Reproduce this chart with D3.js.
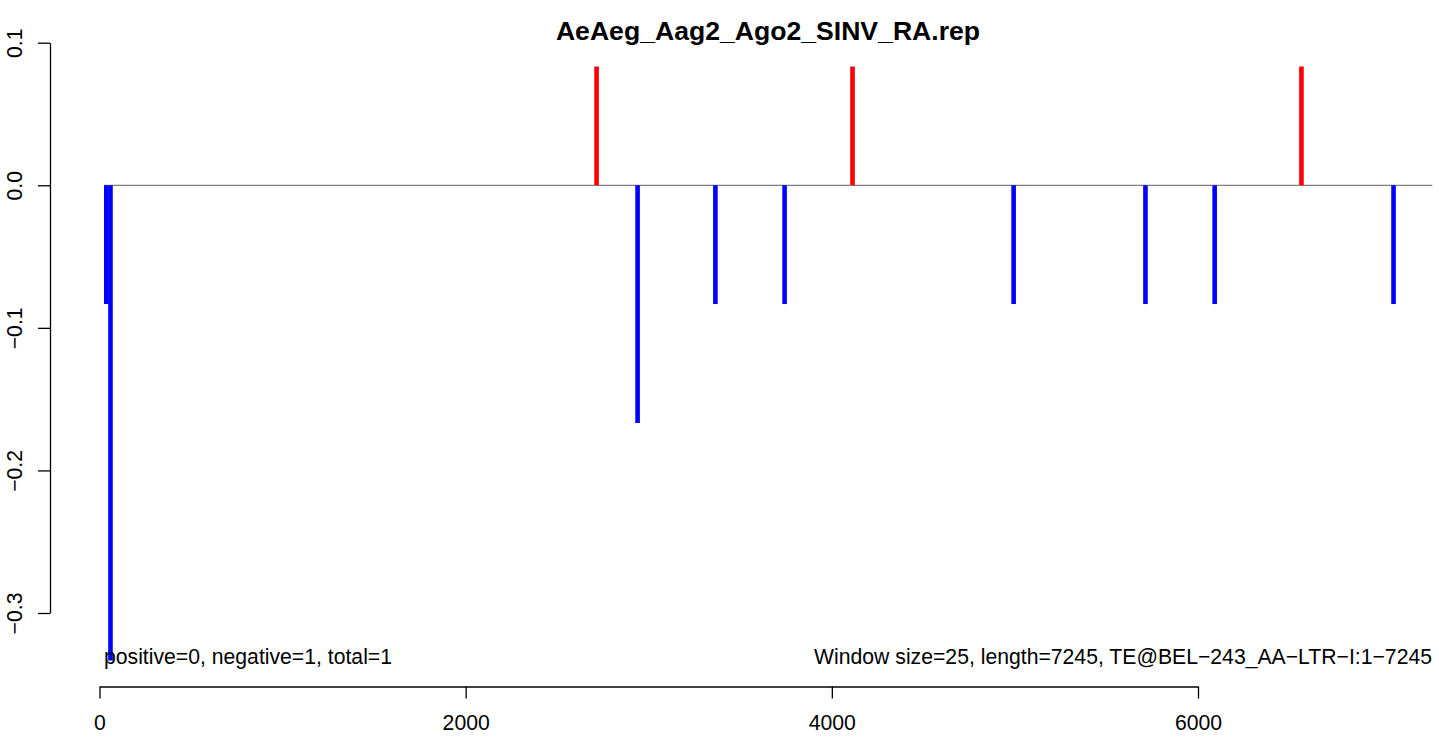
<!DOCTYPE html>
<html><head><meta charset="utf-8">
<script src="https://cdn.jsdelivr.net/npm/d3@7"></script>
<style>
html,body{margin:0;padding:0;background:#fff;}
text{font-family:"Liberation Sans",Arial,Helvetica,sans-serif;fill:#000;}
</style></head>
<body><svg id="c" width="1439" height="738"></svg>
<script>
const title = "AeAeg_Aag2_Ago2_SINV_RA.rep";
const positions = [37, 60, 2715, 2939, 3364, 3742, 4113, 4993, 5713, 6091, 6565, 7068];
const values = [-0.0833, -0.3333, 0.0833, -0.1667, -0.0833, -0.0833, 0.0833, -0.0833, -0.0833, -0.0833, 0.0833, -0.0833];
const xTicks = [0, 2000, 4000, 6000];
const yTicks = [-0.3, -0.2, -0.1, 0.0, 0.1];
const baselineRange = [25, 7280];
const leftNote = "positive=0, negative=1, total=1";
const rightNote = "Window size=25, length=7245, TE@BEL\u2212243_AA\u2212LTR\u2212I:1\u22127245";

const FS = 21.2;
const svg = d3.select("#c");
const x = d3.scaleLinear().domain([0, 6000]).range([99.5, 1198]);
const y = d3.scaleLinear().domain([-0.3, 0.1]).range([613, 42.7]);

// baseline
svg.append("line")
  .attr("x1", x(baselineRange[0])).attr("x2", x(baselineRange[1]))
  .attr("y1", y(0)).attr("y2", y(0))
  .attr("stroke", "#808080").attr("stroke-width", 1.2);

// bars
svg.append("g").selectAll("line").data(positions.map((p, i) => ({p, v: values[i]})))
  .join("line")
  .attr("x1", d => x(d.p)).attr("x2", d => x(d.p))
  .attr("y1", y(0)).attr("y2", d => y(d.v))
  .attr("stroke", d => d.v > 0 ? "#ff0000" : "#0000ff")
  .attr("stroke-width", 4.6)
  .attr("stroke-linecap", "butt");

// x axis
const gx = svg.append("g").attr("transform", "translate(0,686.5)")
  .call(d3.axisBottom(x).tickValues(xTicks).tickSize(12).tickSizeOuter(0).tickPadding(16).tickFormat(d3.format("d")));
gx.selectAll("path,line").attr("stroke", "#000").attr("stroke-width", 1.3);
gx.selectAll("text").style("font-size", FS + "px");

// y axis
const gy = svg.append("g").attr("transform", "translate(50,0)")
  .call(d3.axisLeft(y).tickValues(yTicks).tickSize(12).tickSizeOuter(0).tickFormat(d3.format(".1f")));
gy.selectAll("path,line").attr("stroke", "#000").attr("stroke-width", 1.3);
gy.selectAll("text")
  .attr("x", null).attr("y", null).attr("dy", null)
  .attr("text-anchor", "middle")
  .attr("transform", "translate(-28,0) rotate(-90)")
  .style("font-size", FS + "px");
svg.selectAll(".domain").attr("fill", "none");

// title
svg.append("text").attr("x", 768).attr("y", 40).attr("text-anchor", "middle")
  .style("font-size", "26.6px").style("font-weight", "bold").text(title);

// notes
svg.append("text").attr("x", 104).attr("y", 664).attr("text-anchor", "start")
  .style("font-size", FS + "px").text(leftNote);
svg.append("text").attr("x", 1432).attr("y", 664).attr("text-anchor", "end")
  .style("font-size", FS + "px").text(rightNote);
</script></body></html>
